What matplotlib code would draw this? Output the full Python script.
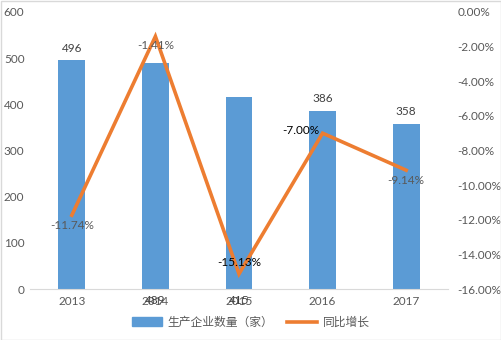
import matplotlib
matplotlib.use("Agg")
import matplotlib.pyplot as plt
from matplotlib.patches import Rectangle
from matplotlib.lines import Line2D

years = ["2013", "2014", "2015", "2016", "2017"]
counts = [496, 489, 415, 386, 358]
growth = [-11.74, -1.41, -15.13, -7.00, -9.14]
bar_name = "生产企业数量（家）"
line_name = "同比增长"
left_ticks = [0, 100, 200, 300, 400, 500, 600]
right_ticks = [0, -2, -4, -6, -8, -10, -12, -14, -16]

plt.rcParams['font.family'] = ['Lato', 'Noto Sans CJK SC', 'DejaVu Sans']
TXT = '#595959'
BLUE = '#5B9BD5'
ORANGE = '#ED7D31'

fig = plt.figure(figsize=(5.02, 3.40), dpi=100)
fig.patch.set_facecolor('white')
fig.add_artist(Rectangle((0.001, 0.001), 0.997, 0.996, transform=fig.transFigure,
                         fill=False, edgecolor='#D9D9D9', linewidth=1))

ax = fig.add_axes([30/502, 51/340, 418/502, 277/340])
x = list(range(len(years)))
ax.bar(x, counts, width=0.32, color=BLUE, zorder=2)
ax.set_xlim(-0.5, len(years) - 0.5)
ax.set_ylim(0, 600)
ax.set_yticks(left_ticks)
ax.set_xticks(x)
ax.set_xticklabels(years)
for s in ['top', 'right', 'left']:
    ax.spines[s].set_visible(False)
ax.spines['bottom'].set_color('#D9D9D9')
ax.tick_params(length=0, colors=TXT, labelsize=8.5)
ax.tick_params(axis='y', pad=4)
ax.tick_params(axis='x', pad=5)

bar_offsets = [12, -12, -12, 12, 12]
for i, (v, off) in enumerate(zip(counts, bar_offsets)):
    ypos = v if off > 0 else 0
    ax.annotate(str(v), (i, ypos), xytext=(0, off), textcoords='offset pixels',
                ha='center', va='center', fontsize=8.5, color='#404040')

ax2 = ax.twinx()
ax2.plot(x, growth, color=ORANGE, linewidth=2.6, zorder=3, solid_joinstyle='miter')
ax2.set_ylim(-16, 0)
ax2.set_yticks(right_ticks)
ax2.set_yticklabels([f"{t:.2f}%" for t in right_ticks])
for s in ['top', 'right', 'left', 'bottom']:
    ax2.spines[s].set_visible(False)
ax2.tick_params(length=0, colors=TXT, labelsize=8.5, pad=7)

line_offsets = [(0, -10), (0, -9), (0, 11), (-22, 3), (0, -10)]
line_colors = [TXT, TXT, '#000000', '#000000', TXT]
for i, (v, off, c) in enumerate(zip(growth, line_offsets, line_colors)):
    ax2.annotate(f"{v:.2f}%", (i, v), xytext=off, textcoords='offset pixels',
                 ha='center', va='center', fontsize=8.5, color=c, zorder=5)

handles = [Rectangle((0, 0), 1, 1, color=BLUE),
           Line2D([0], [0], color=ORANGE, linewidth=2.6)]
fig.legend(handles, [bar_name, line_name], loc='center', bbox_to_anchor=(0.5, 18/340),
           ncol=2, frameon=False, fontsize=8.5, labelcolor=TXT,
           handlelength=2.5, handleheight=0.7, columnspacing=1.2, handletextpad=0.5)

fig.savefig('out.png', dpi=100)
